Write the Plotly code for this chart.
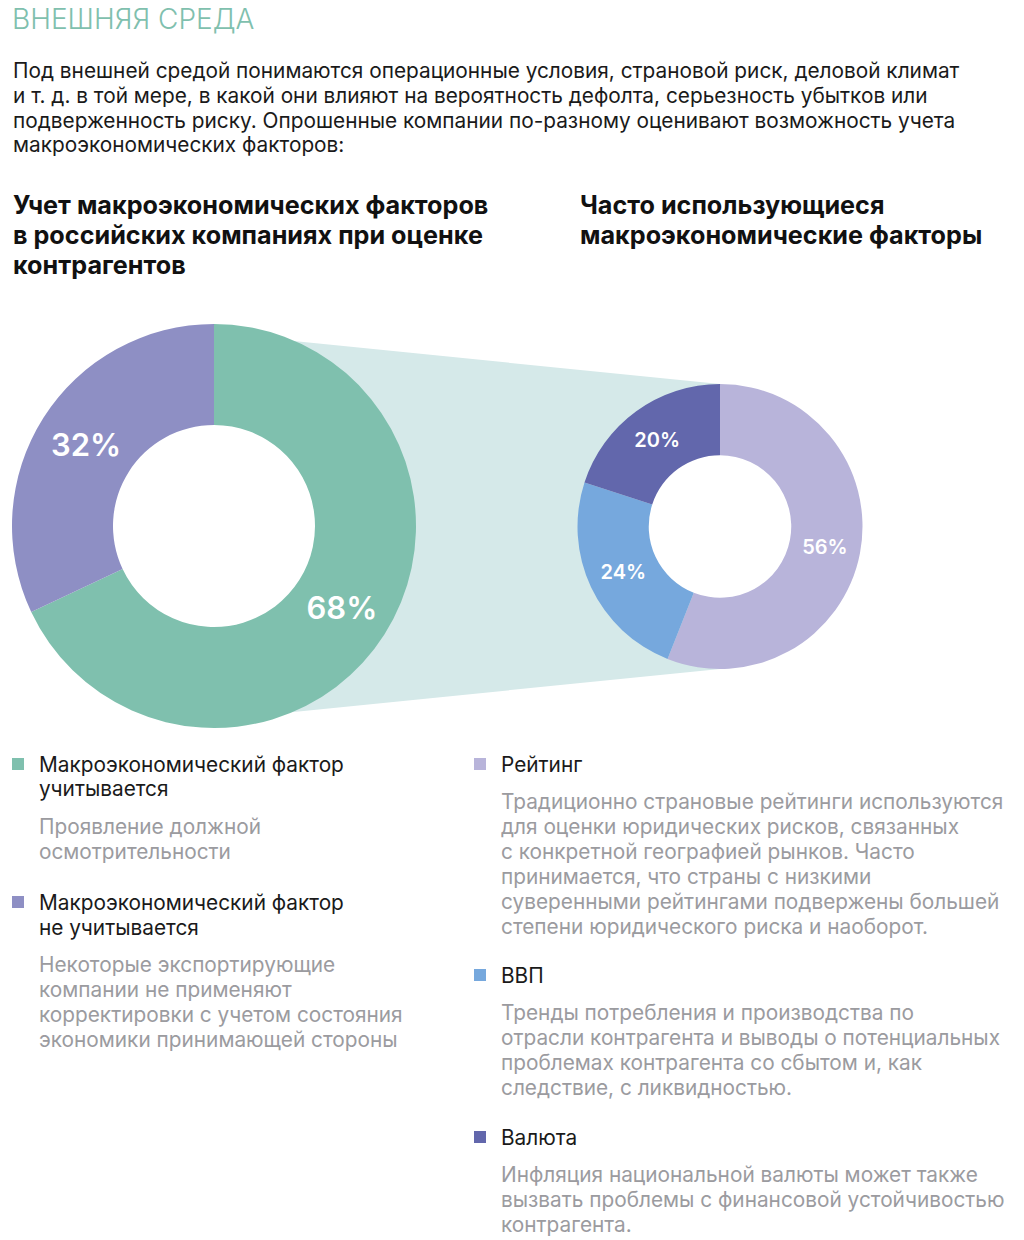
import plotly.graph_objects as go

W, H = 1024, 1240

# ---- data ----
left_labels = ["Макроэкономический фактор учитывается",
               "Макроэкономический фактор не учитывается"]
left_label_lines = [["Макроэкономический фактор", "учитывается"],
                    ["Макроэкономический фактор", "не учитывается"]]
left_values = [68, 32]
left_colors = ["#7fc0ae", "#8e8fc4"]
left_desc = [["Проявление должной", "осмотрительности"],
             ["Некоторые экспортирующие", "компании не применяют",
              "корректировки с учетом состояния", "экономики принимающей стороны"]]

right_labels = ["Рейтинг", "ВВП", "Валюта"]
right_values = [56, 24, 20]
right_colors = ["#b8b4da", "#76a8dd", "#6267ac"]
right_desc = [["Традиционно страновые рейтинги используются",
               "для оценки юридических рисков, связанных",
               "с конкретной географией рынков. Часто",
               "принимается, что страны с низкими",
               "суверенными рейтингами подвержены большей",
               "степени юридического риска и наоборот."],
              ["Тренды потребления и производства по",
               "отрасли контрагента и выводы о потенциальных",
               "проблемах контрагента со сбытом и, как",
               "следствие, с ликвидностью."],
              ["Инфляция национальной валюты может также",
               "вызвать проблемы с финансовой устойчивостью",
               "контрагента."]]

title_text = "ВНЕШНЯЯ СРЕДА"
intro_lines = ["Под внешней средой понимаются операционные условия, страновой риск, деловой климат",
               "и т. д. в той мере, в какой они влияют на вероятность дефолта, серьезность убытков или",
               "подверженность риску. Опрошенные компании по-разному оценивают возможность учета",
               "макроэкономических факторов:"]
left_heading = ["Учет макроэкономических факторов", "в российских компаниях при оценке", "контрагентов"]
right_heading = ["Часто использующиеся", "макроэкономические факторы"]

FONT = "Inter"
DARK = "#1a1a1a"
GREY = "#9b9b9f"
BODY = 20.8


def px(x):
    return x / W


def py(y):
    return 1 - y / H


# donut geometry (screen pixels)
L_C, L_R = (214, 526), 202
R_C, R_R = (720, 526.5), 142.5
HOLE = 0.5

fig = go.Figure()

fig.add_trace(go.Pie(
    values=left_values, labels=left_labels, hole=HOLE, sort=False,
    direction="clockwise", rotation=0,
    marker=dict(colors=left_colors, line=dict(width=0)),
    texttemplate="%{value}%", textposition="inside",
    insidetextorientation="horizontal",
    textfont=dict(family=FONT, size=31, color="white", weight=600),
    domain=dict(x=[px(L_C[0] - L_R), px(L_C[0] + L_R)],
                y=[py(L_C[1] + L_R), py(L_C[1] - L_R)]),
    showlegend=False, hoverinfo="label+percent",
))

fig.add_trace(go.Pie(
    values=right_values, labels=right_labels, hole=HOLE, sort=False,
    direction="clockwise", rotation=0,
    marker=dict(colors=right_colors, line=dict(width=0)),
    texttemplate="%{value}%", textposition="inside",
    insidetextorientation="horizontal",
    textfont=dict(family=FONT, size=20, color="white", weight=600),
    domain=dict(x=[px(R_C[0] - R_R), px(R_C[0] + R_R)],
                y=[py(R_C[1] + R_R), py(R_C[1] - R_R)]),
    showlegend=False, hoverinfo="label+percent",
))

shapes = []
# connector band between the two donuts
shapes.append(dict(
    type="path", xref="paper", yref="paper", layer="below",
    path=f"M {px(214)},{py(333)} L {px(720)},{py(384)} L {px(720)},{py(669)} L {px(214)},{py(720)} Z",
    fillcolor="#d5e9e9", line=dict(width=0),
))
# white centres of the donuts so the band does not show through the holes
for (cx, cy), r in [(L_C, L_R), (R_C, R_R)]:
    ri = r * HOLE + 1
    shapes.append(dict(type="circle", xref="paper", yref="paper", layer="below",
                       x0=px(cx - ri), x1=px(cx + ri), y0=py(cy + ri), y1=py(cy - ri),
                       fillcolor="white", line=dict(width=0)))

annotations = []


def add_line(x, yc, text, size, color, weight=400):
    annotations.append(dict(
        x=px(x), y=py(yc), xref="paper", yref="paper",
        xanchor="left", yanchor="middle", align="left", showarrow=False,
        text=text, font=dict(family=FONT, size=size, color=color, weight=weight),
        borderpad=0,
    ))


def add_block(x, yc0, lines, size, color, step, weight=400):
    for i, t in enumerate(lines):
        add_line(x, yc0 + i * step, t, size, color, weight)


add_line(11, 19, title_text, 28, "#7fc0ae", weight=300)
add_block(12, 71, intro_lines, BODY, DARK, 24.6)
add_block(12, 205, left_heading, 25.2, "#111111", 30, weight=700)
add_block(579, 205, right_heading, 25.2, "#111111", 30, weight=700)

# left legend
left_rows = [(764, 826), (902, 964)]
for i, (yl, yd) in enumerate(left_rows):
    shapes.append(dict(type="rect", xref="paper", yref="paper",
                       x0=px(12), x1=px(24), y0=py(yl + 6), y1=py(yl - 6),
                       fillcolor=left_colors[i], line=dict(width=0)))
    add_block(38, yl, left_label_lines[i], BODY, DARK, 25)
    add_block(38, yd, left_desc[i], BODY, GREY, 25)

# right legend
right_rows = [(764, 801), (975, 1012), (1137, 1174)]
for i, (yl, yd) in enumerate(right_rows):
    shapes.append(dict(type="rect", xref="paper", yref="paper",
                       x0=px(474), x1=px(486), y0=py(yl + 6), y1=py(yl - 6),
                       fillcolor=right_colors[i], line=dict(width=0)))
    add_line(500, yl, right_labels[i], BODY, DARK)
    add_block(500, yd, right_desc[i], BODY, GREY, 25)

fig.update_layout(
    width=W, height=H, margin=dict(l=0, r=0, t=0, b=0),
    paper_bgcolor="white", plot_bgcolor="white",
    shapes=shapes, annotations=annotations,
    font=dict(family=FONT),
)

fig.write_html("out.html", config={"displayModeBar": False},
               post_script="document.body.style.margin='0';document.body.style.overflow='hidden';")
